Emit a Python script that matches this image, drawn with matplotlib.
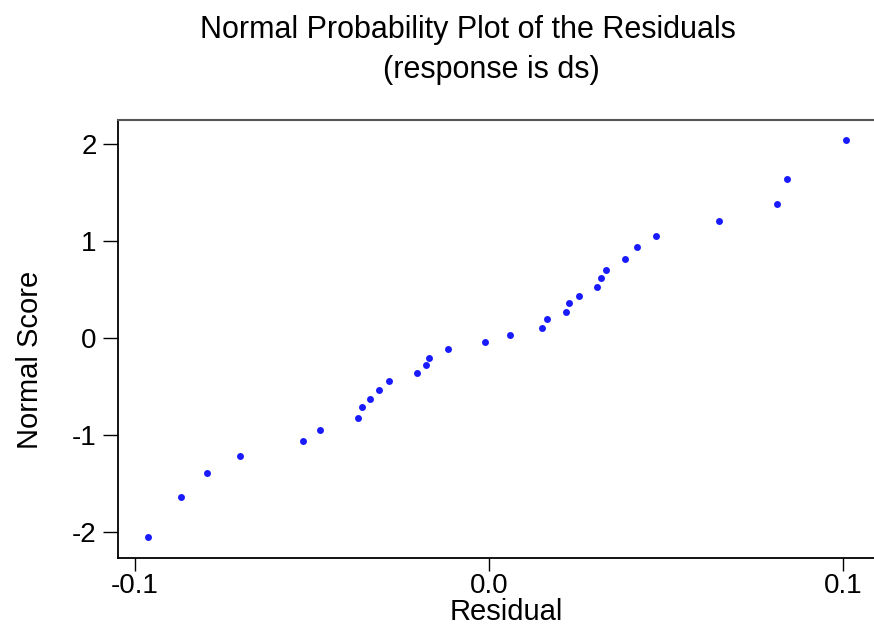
import matplotlib.pyplot as plt
import numpy as np

# Residuals (x) and normal scores (y)
residual = [-0.0962, -0.0868, -0.0795, -0.0703, -0.0525, -0.0476, -0.0369, -0.0359,
            -0.0334, -0.0309, -0.0281, -0.0203, -0.0177, -0.0169, -0.0115, -0.0010,
            0.0059, 0.0150, 0.0164, 0.0219, 0.0228, 0.0256, 0.0307, 0.0316,
            0.0330, 0.0384, 0.0420, 0.0473, 0.0650, 0.0815, 0.0844, 0.1009]
normal_score = [-2.05, -1.64, -1.39, -1.21, -1.06, -0.94, -0.82, -0.71,
                -0.62, -0.53, -0.44, -0.36, -0.27, -0.20, -0.11, -0.04,
                0.04, 0.11, 0.20, 0.27, 0.36, 0.44, 0.53, 0.62,
                0.71, 0.82, 0.94, 1.06, 1.21, 1.39, 1.64, 2.05]

x_ticks = [-0.1, 0.0, 0.1]
x_labels = ['-0.1', '0.0', '0.1']
y_ticks = [-2, -1, 0, 1, 2]
y_labels = ['-2', '-1', '0', '1', '2']

plt.rcParams['font.family'] = ['Liberation Sans', 'DejaVu Sans']

W, H = 874, 634
fig = plt.figure(figsize=(W / 100, H / 100), dpi=100)
ax = fig.add_axes([117.5 / W, 1 - 557.7 / H, 1 - 117.5 / W, (557.7 - 120) / H])

ax.plot(residual, normal_score, 'o', color='#1a1aff', markersize=5, markeredgewidth=0)

ax.set_xlim(-0.10486, 0.10884)
ax.set_ylim(-2.261, 2.2515)
ax.set_xticks(x_ticks)
ax.set_xticklabels(x_labels)
ax.set_yticks(y_ticks)
ax.set_yticklabels(y_labels)

ax.tick_params(axis='both', labelsize=20, width=1, color='black')
ax.tick_params(axis='y', length=11, pad=4)
ax.tick_params(axis='x', length=9, pad=2)

ax.spines['right'].set_visible(False)
ax.spines['top'].set_color('#555555')
ax.spines['top'].set_linewidth(1.5)
for s in ['left', 'bottom']:
    ax.spines[s].set_linewidth(1.3)
    ax.spines[s].set_color('black')

fig.text(468 / W, 1 - 30 / H, 'Normal Probability Plot of the Residuals',
         ha='center', va='center', fontsize=22)
fig.text(491 / W, 1 - 70 / H, '(response is ds)',
         ha='center', va='center', fontsize=22)
fig.text(506 / W, 1 - 612 / H, 'Residual', ha='center', va='center', fontsize=21)
fig.text(30 / W, 1 - 360 / H, 'Normal Score', ha='center', va='center',
         rotation=90, fontsize=21)

fig.savefig('out.png', dpi=100)
